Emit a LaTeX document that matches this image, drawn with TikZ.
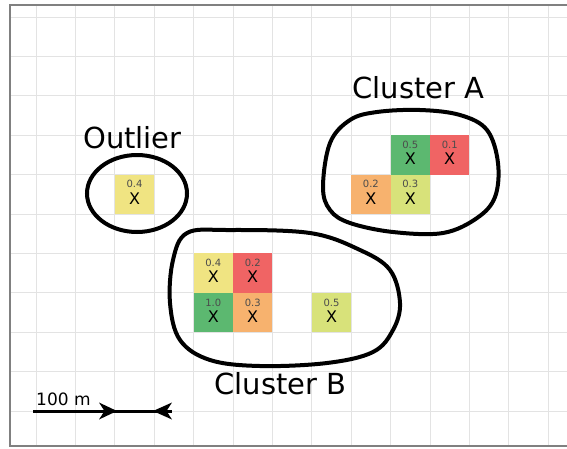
\documentclass[tikz,border=0pt]{standalone}
\usepackage{fontspec}
\setmainfont{DejaVu Sans}
\definecolor{cgreen}{RGB}{92,184,112}
\definecolor{cred}{RGB}{240,100,100}
\definecolor{corange}{RGB}{247,178,110}
\definecolor{cyellow}{RGB}{240,228,130}
\definecolor{cygreen}{RGB}{216,226,122}
\newcommand\mkcell[5]{%
  \node[cellbox, fill=#3] (#5) at ({36+39.4*(#1+0.5)},{17+39.4*(#2+0.5)}) {};
  \node[valtext] (#5v) at ([yshift=10pt]#5.center) {#4};
  \node[xtext] (#5x) at ([yshift=-4pt]#5.center) {X};
}
\begin{document}
\begin{tikzpicture}[x=1pt,y=-1pt,
  gridline/.style={draw=black!11, line width=1pt},
  frameline/.style={draw=black!50, line width=1.5pt},
  blob/.style={draw=black, line width=4pt},
  cellbox/.style={minimum size=39.4pt, inner sep=0pt, outer sep=0pt, draw=none},
  valtext/.style={font=\fontsize{10}{10}\selectfont, text=black!70, inner sep=0pt},
  xtext/.style={font=\fontsize{16}{16}\selectfont, text=black, inner sep=0pt},
  title/.style={font=\fontsize{29}{30}\selectfont, anchor=base, inner sep=0pt},
  scaletext/.style={font=\fontsize{17}{17}\selectfont, anchor=base west, inner sep=0pt}]
\useasboundingbox (0,0) rectangle (567,448);
\fill[white] (0,0) rectangle (567,448);
% grid
\foreach \k in {0,...,13} \draw[gridline] ({36+39.4*\k},5) -- ({36+39.4*\k},446);
\foreach \k in {0,...,10} \draw[gridline] (10,{17+39.4*\k}) -- (567,{17+39.4*\k});
% frame
\draw[frameline] (567,5) -- (10,5) -- (10,446) -- (567,446);
% cells: Cluster A
\mkcell{9}{3}{cgreen}{0.5}{a1}
\mkcell{10}{3}{cred}{0.1}{a2}
\mkcell{8}{4}{corange}{0.2}{a3}
\mkcell{9}{4}{cygreen}{0.3}{a4}
% Outlier
\mkcell{2}{4}{cyellow}{0.4}{o1}
% Cluster B
\mkcell{4}{6}{cyellow}{0.4}{b1}
\mkcell{5}{6}{cred}{0.2}{b2}
\mkcell{4}{7}{cgreen}{1.0}{b3}
\mkcell{5}{7}{corange}{0.3}{b4}
\mkcell{7}{7}{cygreen}{0.5}{b5}
% outlines
\draw[blob] plot[smooth cycle, tension=0.6] coordinates {(323,187) (330,143) (350,120) (377,112) (420,110) (460,115) (487,130) (498,163) (495,197) (477,218) (443,233) (393,232) (350,223) (330,210)};
\draw[blob] (137,193.5) ellipse [x radius=50, y radius=38.5];
\draw[blob] plot[smooth cycle, tension=0.6] coordinates {(187,233) (227,230) (310,233) (360,250) (390,270) (400,303) (393,330) (373,352) (327,363) (260,366) (210,360) (180,340) (170,303) (173,260)};
% titles
\node[title] (ta) at (418.5,98) {Cluster A};
\node[title] (to) at (132.5,148) {Outlier};
\node[title] (tb) at (280.5,394) {Cluster B};
% scale bar
\node[scaletext] (st) at (36,405) {100 m};
\coordinate (s0) at (33,411);
\coordinate (s1) at (172,411);
\draw[line width=3pt] (s0) -- (s1);
\fill (117,411) -- (99,402.5) -- (104.5,411) -- (99,419.5) -- cycle;
\fill (153,411) -- (172,402.5) -- (166.5,411) -- (172,419.5) -- cycle;
\end{tikzpicture}
\end{document}
